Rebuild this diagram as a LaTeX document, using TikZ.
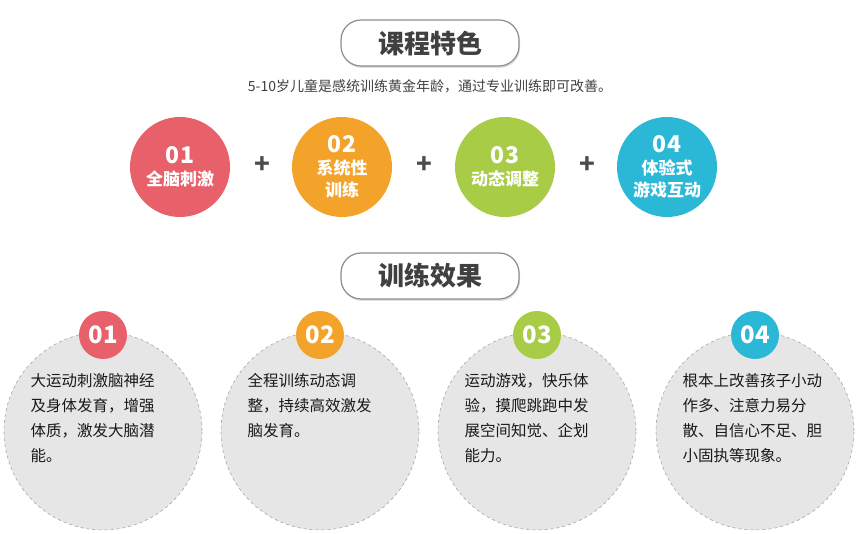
\documentclass[tikz,border=0pt]{standalone}
\usepackage{fontspec}
\setmainfont{Noto Sans CJK SC}
\usetikzlibrary{shadows}
\definecolor{cred}{HTML}{E8606A}
\definecolor{corange}{HTML}{F4A32A}
\definecolor{cgreen}{HTML}{A8CC45}
\definecolor{ccyan}{HTML}{2BB8D6}
\definecolor{cpanel}{HTML}{E6E6E6}
\tikzset{
  titlebox/.style={draw=black!45,line width=1.2pt,rounded corners=20pt,fill=white,
    minimum width=178pt,minimum height=46pt,font=\fontsize{26}{26}\selectfont\bfseries,
    text=black!75,drop shadow={shadow xshift=1pt,shadow yshift=-2pt,opacity=.25}},
  feature/.style={circle,minimum size=100pt,inner sep=0pt,text=white,align=center,
    font=\fontsize{17}{22}\selectfont\bfseries},
  plussign/.style={font=\fontsize{26}{26}\selectfont\bfseries,text=black!70},
  panel/.style={circle,minimum size=198pt,fill=cpanel,draw=black!35,dashed,line width=.6pt},
  badge/.style={circle,minimum size=48pt,inner sep=0pt,text=white,
    font=\fontsize{24}{24}\selectfont\bfseries},
  paneltext/.style={align=left,font=\fontsize{15.5}{25}\selectfont,text=black!90}
}
\begin{document}
\begin{tikzpicture}[x=1pt,y=-1pt]
\useasboundingbox (0,0) rectangle (860,534);
\node[titlebox] (t1) at (430,43) {课程特色};
\node[font=\fontsize{14}{14}\selectfont,text=black!75] (sub) at (430,86)
  {5-10岁儿童是感统训练黄金年龄，通过专业训练即可改善。};
\node[feature,fill=cred] (f1) at (180,167) {{\fontsize{23}{23}\selectfont 01}\\全脑刺激};
\node[feature,fill=corange] (f2) at (342,167) {{\fontsize{23}{23}\selectfont 02}\\系统性\\训练};
\node[feature,fill=cgreen] (f3) at (505,167) {{\fontsize{23}{23}\selectfont 03}\\动态调整};
\node[feature,fill=ccyan] (f4) at (667,167) {{\fontsize{23}{23}\selectfont 04}\\体验式\\游戏互动};
\foreach \x in {262,424,587}
  \node[plussign] at (\x,165) {+};
\node[titlebox] (t2) at (430,276) {训练效果};
% effect panels
\foreach \i/\x/\c/\txt in {
  1/103/cred/{大运动刺激脑神经\\及身体发育，增强\\体质，激发大脑潜\\能。},
  2/320/corange/{全程训练动态调\\整，持续高效激发\\脑发育。},
  3/537/cgreen/{运动游戏，快乐体\\验，摸爬跳跑中发\\展空间知觉、企划\\能力。},
  4/755/ccyan/{根本上改善孩子小动\\作多、注意力易分\\散、自信心不足、胆\\小固执等现象。}}{
  \node[panel] (p\i) at (\x,431) {};
  \node[badge,fill=\c] (b\i) at (\x,335) {0\i};
  \node[paneltext,anchor=north west] (e\i) at (\x-76,370) {\txt};
}
\end{tikzpicture}
\end{document}
